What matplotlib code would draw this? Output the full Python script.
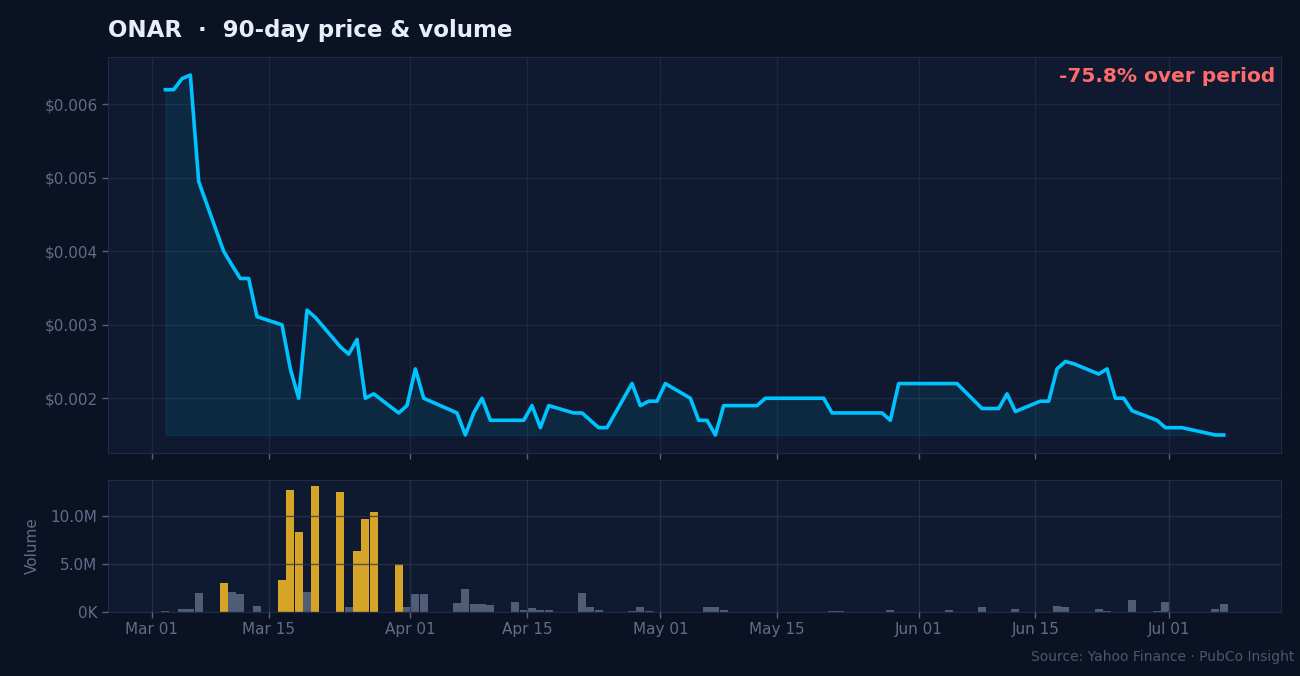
import matplotlib
matplotlib.use("Agg")
import matplotlib.pyplot as plt
import matplotlib.dates as mdates
from matplotlib.ticker import FuncFormatter
import numpy as np
import pandas as pd

# daily rows (2025)
dates = pd.to_datetime([
    "2025-03-03", "2025-03-04", "2025-03-05", "2025-03-06", "2025-03-07",
    "2025-03-10", "2025-03-11", "2025-03-12", "2025-03-13", "2025-03-14",
    "2025-03-17", "2025-03-18", "2025-03-19", "2025-03-20", "2025-03-21",
    "2025-03-24", "2025-03-25", "2025-03-26", "2025-03-27", "2025-03-28",
    "2025-03-31", "2025-04-01", "2025-04-02", "2025-04-03",
    "2025-04-07", "2025-04-08", "2025-04-09", "2025-04-10", "2025-04-11",
    "2025-04-14", "2025-04-15", "2025-04-16", "2025-04-17", "2025-04-18",
    "2025-04-21", "2025-04-22", "2025-04-23", "2025-04-24", "2025-04-25",
    "2025-04-28", "2025-04-29", "2025-04-30", "2025-05-01", "2025-05-02",
    "2025-05-05", "2025-05-06", "2025-05-07", "2025-05-08", "2025-05-09",
    "2025-05-12", "2025-05-13", "2025-05-14", "2025-05-15", "2025-05-16",
    "2025-05-19", "2025-05-20", "2025-05-21", "2025-05-22", "2025-05-23",
    "2025-05-27", "2025-05-28", "2025-05-29", "2025-05-30",
    "2025-06-02", "2025-06-03", "2025-06-04", "2025-06-05", "2025-06-06",
    "2025-06-09", "2025-06-10", "2025-06-11", "2025-06-12", "2025-06-13",
    "2025-06-16", "2025-06-17", "2025-06-18", "2025-06-19", "2025-06-20",
    "2025-06-23", "2025-06-24", "2025-06-25", "2025-06-26", "2025-06-27",
    "2025-06-30", "2025-07-01", "2025-07-02", "2025-07-03",
    "2025-07-07", "2025-07-08",
])

close = [
    0.0062, 0.0062, 0.00635, 0.0064, 0.00495,
    0.0040, 0.00381, 0.00363, 0.00363, 0.00311,
    0.0030, 0.0024, 0.0020, 0.0032, 0.0031,
    0.0027, 0.0026, 0.0028, 0.0020, 0.00206,
    0.0018, 0.0019, 0.0024, 0.0020,
    0.0018, 0.0015, 0.0018, 0.0020, 0.0017,
    0.0017, 0.0017, 0.0019, 0.0016, 0.0019,
    0.0018, 0.0018, 0.0017, 0.0016, 0.0016,
    0.0022, 0.0019, 0.00196, 0.00196, 0.0022,
    0.0020, 0.0017, 0.0017, 0.0015, 0.0019,
    0.0019, 0.0019, 0.0020, 0.0020, 0.0020,
    0.0020, 0.0020, 0.0020, 0.0018, 0.0018,
    0.0018, 0.0018, 0.0017, 0.0022,
    0.0022, 0.0022, 0.0022, 0.0022, 0.0022,
    0.00186, 0.00186, 0.00186, 0.00206, 0.00182,
    0.00196, 0.00196, 0.0024, 0.0025, 0.00247,
    0.00233, 0.0024, 0.0020, 0.0020, 0.00183,
    0.0017, 0.0016, 0.0016, 0.0016,
    0.0015, 0.0015,
]

volume_m = [
    0.1, 0.0, 0.3, 0.3, 1.98,
    3.02, 2.08, 1.875, 0.0, 0.625,
    3.33, 12.7, 8.33, 2.08, 13.1,
    12.5, 0.52, 6.35, 9.7, 10.4,
    5.0, 0.42, 1.875, 1.875,
    0.94, 2.4, 0.83, 0.83, 0.73,
    1.04, 0.2, 0.4, 0.2, 0.2,
    0.0, 1.98, 0.42, 0.2, 0.0,
    0.1, 0.52, 0.1, 0.0, 0.0,
    0.0, 0.0, 0.52, 0.52, 0.2,
    0.0, 0.0, 0.0, 0.0, 0.0,
    0.0, 0.0, 0.0, 0.1, 0.1,
    0.0, 0.0, 0.2, 0.0,
    0.0, 0.0, 0.0, 0.2, 0.0,
    0.42, 0.0, 0.0, 0.0, 0.31,
    0.0, 0.0, 0.625, 0.52, 0.0,
    0.31, 0.1, 0.0, 0.0, 1.25,
    0.1, 1.04, 0.0, 0.0,
    0.31, 0.83,
]

ticker = "ONAR"

BG = "#0b1223"
PANEL = "#0f1a30"
GRID = "#1c2841"
SPINE = "#1f2b45"
TXT = "#5f6e88"
CYAN = "#00c2ff"
GOLD = "#d6a527"
SLATE = "#4f5d76"

close = np.array(close)
volume = np.array(volume_m) * 1e6
change = (close[-1] / close[0] - 1) * 100

# the source timestamps sit a little before midnight of each session date
xs = dates - pd.Timedelta(hours=9.5)

fig = plt.figure(figsize=(13, 6.76), dpi=100, facecolor=BG)
ax = fig.add_axes([0.0831, 0.3299, 0.9023, 0.5858])
axv = fig.add_axes([0.0831, 0.0954, 0.9023, 0.1945], sharex=ax)

for a in (ax, axv):
    a.set_facecolor(PANEL)
    for s in a.spines.values():
        s.set_color(SPINE)
    a.tick_params(colors=TXT, labelsize=11, length=4, width=1)
    a.tick_params(axis="both", color="#56637b")
    a.grid(True, color=GRID, linewidth=1)

ax.plot(xs, close, color=CYAN, lw=2.6, zorder=3)
ax.fill_between(xs, close, close.min(), color=CYAN, alpha=0.09, zorder=2)
ax.yaxis.set_major_formatter(FuncFormatter(lambda v, p: f"${v:.3f}"))
ax.tick_params(axis="x", labelbottom=False)

colors = [GOLD if v > 2 * volume.mean() else SLATE for v in volume]
axv.bar(xs, volume, width=0.96, color=colors, zorder=2)
axv.set_axisbelow(False)
axv.grid(True, color="#2a3550", alpha=0.75, linewidth=1)


def vol_fmt(v, p):
    if v >= 1e6:
        return f"{v / 1e6:.1f}M"
    return f"{v / 1e3:.0f}K"


axv.yaxis.set_major_formatter(FuncFormatter(vol_fmt))
axv.set_ylabel("Volume", color=TXT, fontsize=11, labelpad=8)
axv.xaxis.set_major_locator(mdates.DayLocator(bymonthday=[1, 15]))
axv.xaxis.set_major_formatter(mdates.DateFormatter("%b %d"))

fig.text(0.0831, 0.955, f"{ticker}  ·  90-day price & volume", color="#e8eef8",
         fontsize=16.5, fontweight="bold", va="center", ha="left")
ax.text(0.995, 0.95, f"{change:.1f}% over period", transform=ax.transAxes,
        color="#ff6b6b", fontsize=14.5, fontweight="bold", ha="right", va="center")
fig.text(0.9954, 0.028, "Source: Yahoo Finance · PubCo Insight", color="#4a5870",
         fontsize=10, ha="right", va="center")

fig.savefig("out.png", dpi=100, facecolor=BG)
